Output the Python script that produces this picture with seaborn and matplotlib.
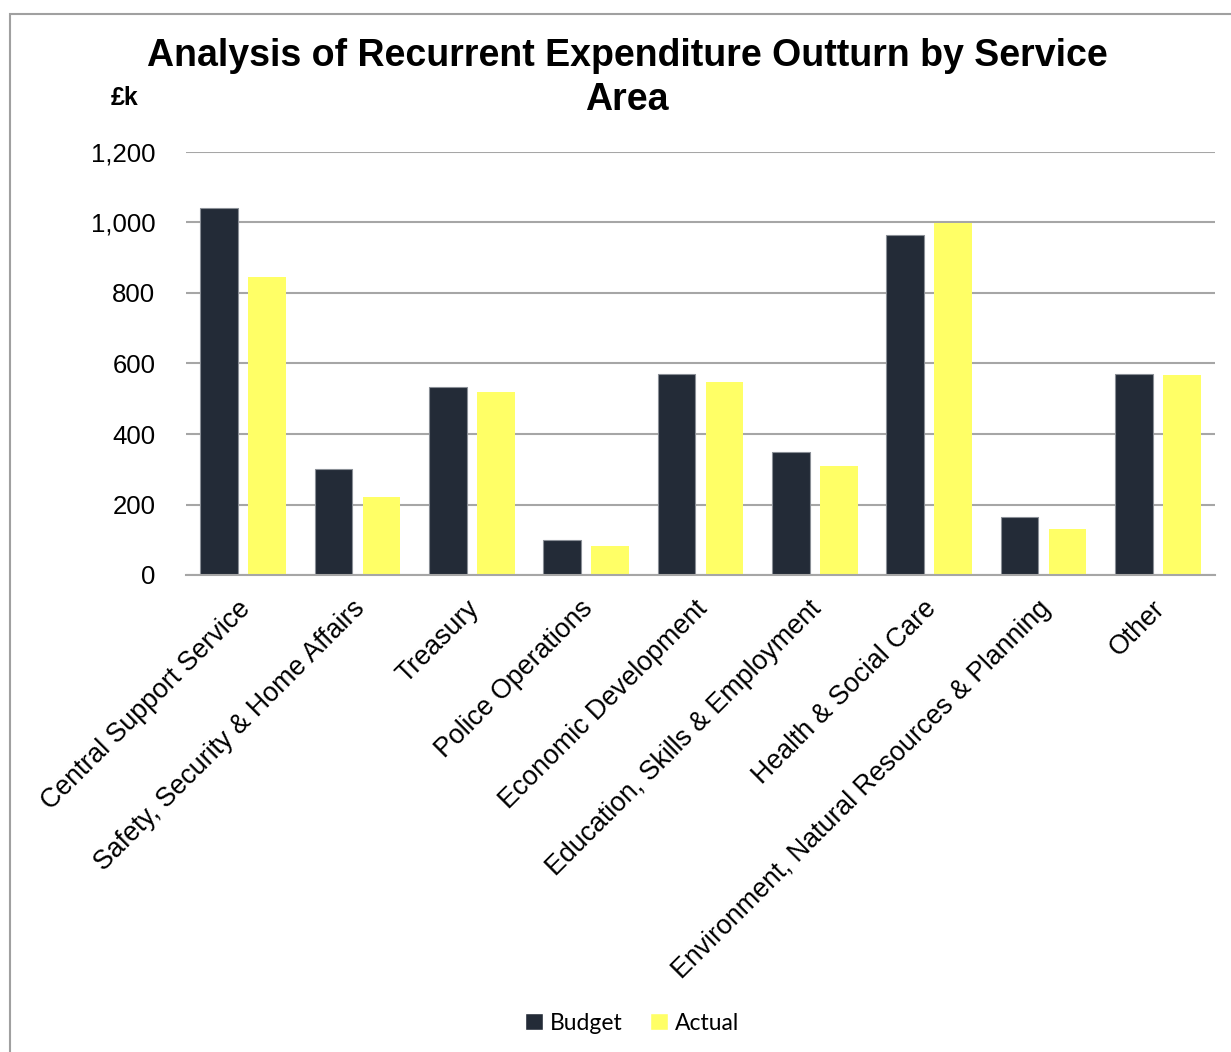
import matplotlib
matplotlib.use("Agg")
import matplotlib.pyplot as plt
import matplotlib.transforms as mtransforms
import seaborn as sns
import pandas as pd
from matplotlib.patches import Rectangle

categories = ["Central Support Service", "Safety, Security & Home Affairs", "Treasury",
              "Police Operations", "Economic Development", "Education, Skills & Employment",
              "Health & Social Care", "Environment, Natural Resources & Planning", "Other"]
budget = [1041, 300, 533, 99, 570, 349, 965, 164, 570]
actual = [846, 221, 519, 82, 548, 309, 998, 131, 566]
series = ["Budget", "Actual"]
colors = ["#232B37", "#FFFF66"]
yticks = [0, 200, 400, 600, 800, 1000, 1200]
ytick_labels = ["0", "200", "400", "600", "800", "1,000", "1,200"]

df = pd.DataFrame({
    "Category": categories * 2,
    "Series": ["Budget"] * len(categories) + ["Actual"] * len(categories),
    "Value": budget + actual,
})

sns.set_theme(style="white")
plt.rcParams["font.family"] = ["Liberation Sans", "DejaVu Sans"]
plt.rcParams["text.color"] = "black"
plt.rcParams["xtick.color"] = "black"
plt.rcParams["ytick.color"] = "black"

fig = plt.figure(figsize=(12.31, 10.52), dpi=100)
ax = fig.add_axes([186/1231, 1-575/1052, (1215-186)/1231, (575-152)/1052])

sns.barplot(data=df, x="Category", y="Value", hue="Series", hue_order=series,
            palette=colors, saturation=1, width=0.84, gap=0.21, ax=ax, legend=False,
            edgecolor="none", linewidth=0)
for p in ax.patches[:len(categories)]:
    p.set_edgecolor("#8A8F96")
    p.set_linewidth(0.8)

ax.set_ylim(0, 1200)
ax.set_xlim(-0.5, len(categories) - 0.5)
ax.set_yticks(yticks)
ax.set_yticklabels(ytick_labels, fontsize=18.5)
ax.yaxis.grid(True, color="#A6A6A6", linewidth=1.5)
ax.set_axisbelow(True)
ax.tick_params(axis="both", length=0)
ax.tick_params(axis="y", pad=22)
for s in ["top", "right", "left"]:
    ax.spines[s].set_visible(False)
ax.spines["bottom"].set_color("#A6A6A6")
ax.spines["bottom"].set_linewidth(1.5)
ax.set_xlabel("")
ax.set_ylabel("")
ax.set_xticks(range(len(categories)))
ax.set_xticklabels(categories, rotation=45, ha="right", rotation_mode="anchor", fontsize=19.3)
ax.tick_params(axis="x", pad=15)
offset = mtransforms.ScaledTranslation(-6/100, 0, fig.dpi_scale_trans)
for lbl in ax.get_xticklabels():
    lbl.set_transform(lbl.get_transform() + offset)

fig.text(627/1231, 1-38/1052, "Analysis of Recurrent Expenditure Outturn by Service\nArea",
         ha="center", va="top", fontsize=27, fontweight="bold", linespacing=1.3)
fig.text(125/1231, 1-98/1052, "£k", ha="center", va="center", fontsize=18, fontweight="bold")

handles = [Rectangle((0, 0), 1, 1, facecolor=c) for c in colors]
fig.legend(handles, series, loc="center", bbox_to_anchor=(632/1231, 1-1023/1052),
           ncol=2, frameon=False, handlelength=0.8, handleheight=0.8, handletextpad=0.3,
           columnspacing=1.2, prop={"family": ["Lato", "DejaVu Sans"], "size": 16.5})

fig.patches.append(Rectangle((10/1231, -0.01), 1.1, 1-14/1052 + 0.01, transform=fig.transFigure,
                             fill=False, edgecolor="#A0A0A0", linewidth=1.5))

fig.savefig("out.png", dpi=100)
